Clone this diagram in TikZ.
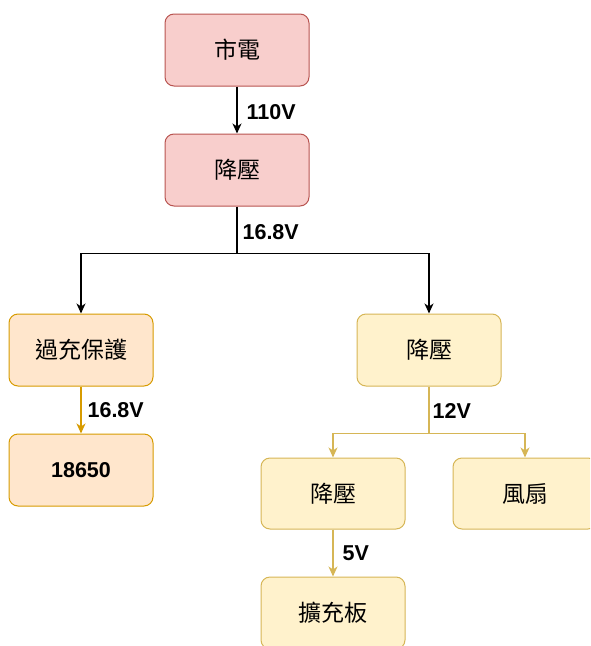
\documentclass[tikz,border=0pt]{standalone}
\usepackage{fontspec}
\setmainfont{Liberation Sans}
\newfontfamily\cjk{Noto Sans CJK TC}
\usetikzlibrary{arrows.meta}
\definecolor{redfill}{HTML}{F8CECC}
\definecolor{redline}{HTML}{B85450}
\definecolor{orfill}{HTML}{FFE6CC}
\definecolor{orline}{HTML}{D79B00}
\definecolor{yefill}{HTML}{FFF2CC}
\definecolor{yeline}{HTML}{D6B656}
\begin{document}
\begin{tikzpicture}[x=1pt,y=1pt,
  box/.style={rounded corners=9pt, minimum width=144pt, minimum height=72pt, draw, line width=1pt, inner sep=0pt, font=\cjk\fontsize{23}{26}\selectfont},
  redbox/.style={box, fill=redfill, draw=redline},
  orbox/.style={box, fill=orfill, draw=orline},
  yebox/.style={box, fill=yefill, draw=yeline},
  conn/.style={line width=1.2pt, -{Stealth[length=10pt,width=9pt,inset=3pt]}},
  plain/.style={line width=1.2pt},
  lbl/.style={anchor=west, inner sep=0pt, font=\bfseries\fontsize{21.5}{24}\selectfont, text=black}
]
\useasboundingbox (0,0) rectangle (590,-646);
\clip (0,0) rectangle (590,-646);
\node[redbox] (m) at (237,-50) {市電};
\node[redbox] (s1) at (237,-170) {降壓};
\node[orbox] (op) at (81,-350) {過充保護};
\node[orbox, font=\bfseries\fontsize{21.5}{24}\selectfont] (bat) at (81,-470) {18650};
\node[yebox] (s2) at (429,-350) {降壓};
\node[yebox, minimum height=71pt] (s3) at (333,-493.5) {降壓};
\node[yebox, minimum height=71pt] (fan) at (525,-493.5) {風扇};
\node[yebox] (ext) at (333,-613) {擴充板};

\coordinate (j1) at (237,-253.5);
\coordinate (j2) at (429,-433.5);

\draw[conn] (m) -- (s1) node[lbl, pos=0.5, xshift=9pt, yshift=-2pt] {110V};
\draw[plain] (s1) -- (j1) node[lbl, pos=0.5, xshift=5pt, yshift=-2pt] {16.8V};
\draw[conn] (j1) -| (op);
\draw[conn] (j1) -| (s2);
\draw[conn, draw=orline] (op) -- (bat) node[lbl, pos=0.5, xshift=6pt] {16.8V};
\draw[plain, draw=yeline] (s2) -- (j2) node[lbl, pos=0.5, xshift=3pt, yshift=-1pt] {12V};
\draw[conn, draw=yeline] (j2) -| (s3);
\draw[conn, draw=yeline] (j2) -| (fan);
\draw[conn, draw=yeline] (s3) -- (ext) node[lbl, pos=0.5, xshift=9pt] {5V};
\end{tikzpicture}
\end{document}
